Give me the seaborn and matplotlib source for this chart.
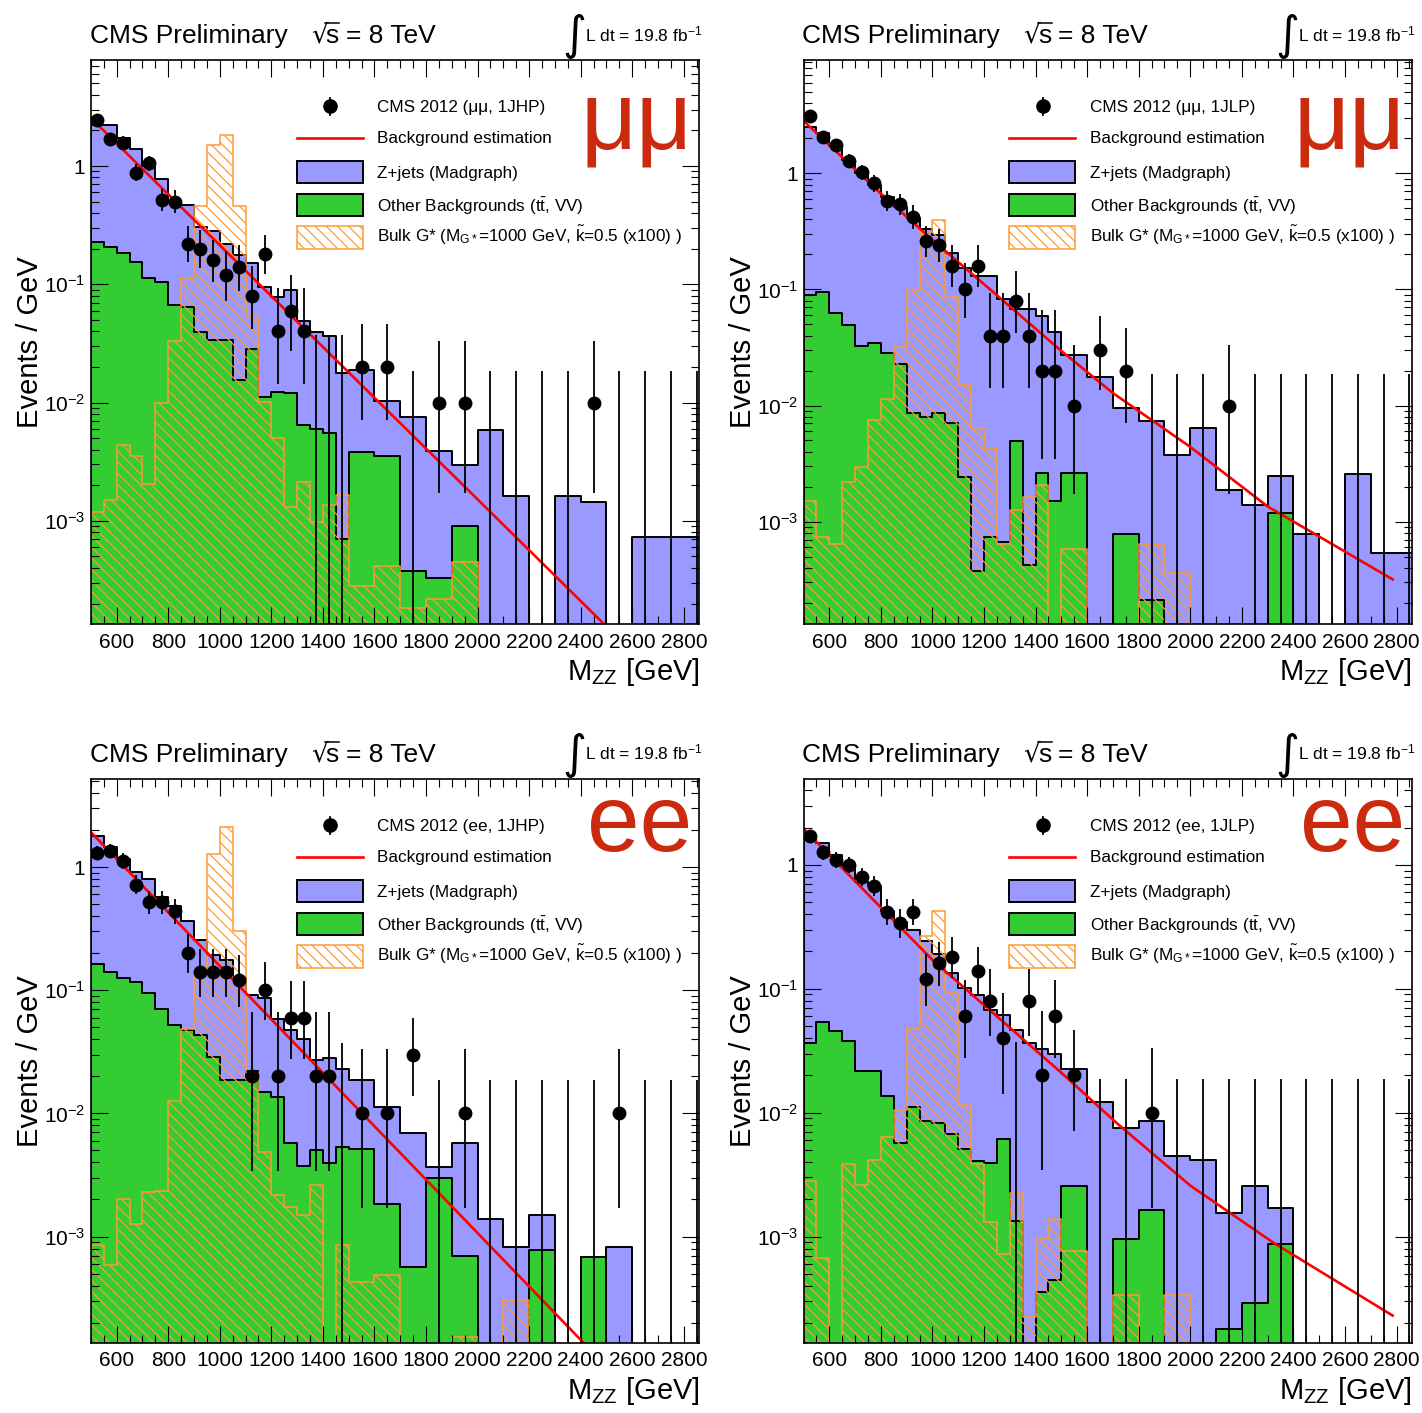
import numpy as np
import matplotlib
matplotlib.use("Agg")
import matplotlib.pyplot as plt
import seaborn as sns
from matplotlib.patches import Rectangle
from matplotlib.ticker import MultipleLocator, LogLocator, NullFormatter, FuncFormatter, FixedLocator

# ------------------------------------------------------------------ data
bin_edges = [500, 550, 600, 650, 700, 750, 800, 850, 900, 950, 1000, 1050, 1100, 1150,
             1200, 1250, 1300, 1350, 1400, 1450, 1500, 1600, 1700, 1800, 1900, 2000,
             2100, 2200, 2300, 2400, 2500, 2600, 2700, 2800, 2900]
x_tick_values = [600, 800, 1000, 1200, 1400, 1600, 1800, 2000, 2200, 2400, 2600, 2800]

# mu-mu, 1JHP  (stack top = Z+jets + other, events / GeV)
tl_stack_top = [2.24, 2.24, 1.71, 1.38, 1.00, 0.777, 0.505, 0.470, 0.305, 0.284, 0.218, 0.178,
                0.152, 0.0944, 0.0778, 0.0898, 0.0487, 0.0392, 0.0365, 0.0178, 0.0188, 0.0104,
                0.0076, 0.00392, 0.00294, 0.00591, 0.00162, 0, 0.00162, 0.00143, 0,
                0.000724, 0.000724, 0.000724]
tl_other = [0.229, 0.208, 0.1845, 0.154, 0.114, 0.1037, 0.0673, 0.0649, 0.0398, 0.034, 0.034,
            0.0154, 0.0284, 0.0111, 0.0124, 0.0120, 0.0065, 0.0060, 0.00554, 0.000698, 0.00379,
            0.00352, 0.00038, 0.000328, 0.000898, 0, 0, 0, 0, 0, 0, 0, 0, 0]
tl_signal = [0.00118, 0.00149, 0.00437, 0.00352, 0.00205, 0.01, 0.0333, 0.113, 0.46, 1.507,
             1.844, 0.46, 0.0531, 0.01015, 0.00498, 0.001315, 0.00213, 0.000986, 0.00135,
             0.001655, 0.00028, 0.000413, 0.000184, 0.000218, 0.000453, 0, 0, 0, 0, 0, 0, 0, 0, 0]
tl_counts = [123, 84, 79, 44, 53, 26, 25, 11, 10, 8, 6, 7, 4, 9, 2, 3, 2, 0, 0, 0,
             2, 2, 0, 1, 1, 0, 0, 0, 0, 1, 0, 0, 0, 0]
tl_fit_x = [500, 1000, 1500, 2000, 2500]
tl_fit_y = [2.55, 0.214, 0.018, 0.00152, 0.000128]
tl_ylim = [1.33e-4, 7.8]

# mu-mu, 1JLP
tr_stack_top = [2.5, 2.21, 1.73, 1.29, 1.015, 0.80, 0.621, 0.517, 0.415, 0.333, 0.292, 0.207,
                0.154, 0.130, 0.130, 0.0826, 0.0673, 0.0673, 0.0594, 0.0427, 0.0271, 0.01746,
                0.0095, 0.00735, 0.00374, 0.00644, 0.00189, 0.00138, 0.00245, 0.000785, 0,
                0.00258, 0.000532, 0.000532]
tr_other = [0.089, 0.0944, 0.0625, 0.0494, 0.0323, 0.0343, 0.0285, 0.0229, 0.00863, 0.0079,
            0.00863, 0.00708, 0.00241, 0.000377, 0.00073, 0.000664, 0.00491, 0.000421, 0.00263,
            0.00152, 0.00263, 0, 0.000785, 0.00021, 0, 0, 0, 0, 0.00119, 0, 0, 0, 0, 0]
tr_signal = [0.00152, 0.00073, 0.000644, 0.00219, 0.00294, 0.00746, 0.0114, 0.0319, 0.0993,
             0.314, 0.394, 0.0857, 0.0153, 0.00635, 0.00434, 0.000644, 0.00126, 0.00163,
             0.00208, 0, 0.000586, 0, 0, 0.000644, 0.000364, 0, 0, 0, 0, 0, 0, 0, 0, 0]
tr_counts = [156, 103, 87, 64, 51, 41, 29, 27, 21, 13, 12, 8, 5, 8, 2, 2, 4, 2, 1, 1,
             1, 3, 2, 0, 0, 0, 1, 0, 0, 0, 0, 0, 0, 0]
tr_fit_x = [500, 800, 1000, 1250, 1500, 1700, 2000, 2300, 2785]
tr_fit_y = [2.83, 0.668, 0.267, 0.089, 0.0295, 0.0128, 0.0044, 0.00135, 0.000318]
tr_ylim = [1.30e-4, 9.36]

# e-e, 1JHP
bl_stack_top = [1.79, 1.45, 1.156, 0.914, 0.807, 0.571, 0.481, 0.365, 0.254, 0.1915, 0.176,
                0.1265, 0.0914, 0.0871, 0.0583, 0.0474, 0.0399, 0.0272, 0.0282, 0.0229, 0.0186,
                0.01132, 0.00693, 0.00367, 0.00575, 0.00139, 0.000818, 0.00149, 0, 0.000684,
                0.000818, 0, 0, 0]
bl_other = [0.162, 0.141, 0.1248, 0.1164, 0.0946, 0.0708, 0.0519, 0.0474, 0.0434, 0.0288,
            0.0186, 0.0186, 0.0221, 0.0148, 0.01364, 0.00575, 0.00372, 0.00501, 0.00399,
            0.00537, 0.00512, 0.001837, 0.000567, 0.00298, 0.000698, 0, 0, 0.000774, 0,
            0.000684, 0, 0, 0, 0]
bl_signal = [0.000859, 0.000587, 0.002, 0.00127, 0.00231, 0.00234, 0.01256, 0.0481, 0.141,
             1.28, 2.12, 0.302, 0.0214, 0.00484, 0.00218, 0.00174, 0.00149, 0.0026, 0,
             0.000847, 0.00043, 0.000487, 0, 0, 0.000152, 0, 0.000304, 0, 0, 0, 0, 0, 0, 0]
bl_counts = [65, 68, 56, 36, 26, 26, 22, 10, 7, 7, 7, 6, 1, 5, 1, 3, 3, 1, 1, 0,
             1, 1, 3, 0, 1, 0, 0, 0, 0, 0, 1, 0, 0, 0]
bl_fit_x = [500, 1000, 1500, 2000, 2450]
bl_fit_y = [1.92, 0.1576, 0.01297, 0.001068, 0.000113]
bl_ylim = [1.375e-4, 5.15]

# e-e, 1JLP
br_stack_top = [1.65, 1.49, 1.21, 0.986, 0.724, 0.676, 0.424, 0.344, 0.296, 0.241, 0.1895,
                0.134, 0.102, 0.0889, 0.0676, 0.061, 0.0463, 0.0364, 0.0328, 0.0296, 0.0225,
                0.01213, 0.0075, 0.0086, 0.00448, 0.00418, 0.00154, 0.00258, 0.00171,
                0, 0, 0, 0, 0]
br_other = [0.0364, 0.0539, 0.0457, 0.0377, 0.0217, 0.0217, 0.0136, 0.00569, 0.0111, 0.0086,
            0.0083, 0.00676, 0.00513, 0.00404, 0.0039, 0.00618, 0.00134, 0, 0.000357,
            0.000448, 0.00258, 0, 0.000953, 0.00165, 0, 0, 0.00018, 0.00029, 0.00087,
            0, 0, 0, 0, 0]
br_signal = [0.00282, 0.000676, 0, 0.00385, 0.00262, 0.00412, 0.0064, 0.01057, 0.047, 0.267,
             0.424, 0.092, 0.01148, 0.00385, 0.001316, 0.000724, 0.00225, 0.000225, 0.000953,
             0.00139, 0.000765, 0, 0.00034, 0, 0.00034, 0, 0, 0, 0, 0, 0, 0, 0, 0]
br_counts = [85, 63, 55, 50, 40, 34, 21, 17, 21, 6, 8, 9, 3, 7, 4, 2, 0, 4, 1, 3,
             2, 0, 0, 1, 0, 0, 0, 0, 0, 0, 0, 0, 0, 0]
br_fit_x = [500, 1000, 1500, 1716, 2000, 2323, 2785]
br_fit_y = [1.96, 0.171, 0.021, 0.0082, 0.00258, 0.00089, 0.00023]
br_ylim = [1.39e-4, 4.9]

legend_labels = ["CMS 2012 (μμ, 1JHP)", "CMS 2012 (μμ, 1JLP)",
                 "CMS 2012 (ee, 1JHP)", "CMS 2012 (ee, 1JLP)"]
channel_labels = ["μμ", "μμ", "ee", "ee"]

# ------------------------------------------------------------------ style
BLUE = "#9999ff"
GREEN = "#33cc33"
ORANGE = "#ff9933"
CHAN_RED = "#cc2a0e"

plt.rcParams["font.family"] = ["Liberation Sans", "DejaVu Sans"]
plt.rcParams["mathtext.fontset"] = "custom"
plt.rcParams["mathtext.rm"] = "Liberation Sans"
plt.rcParams["mathtext.it"] = "Liberation Sans:italic"
plt.rcParams["mathtext.bf"] = "Liberation Sans:bold"
plt.rcParams["hatch.color"] = ORANGE
plt.rcParams["hatch.linewidth"] = 0.9

FW, FH = 1422, 1413
fig = plt.figure(figsize=(FW / 100, FH / 100), dpi=100)
fig.patch.set_facecolor("white")

edges = np.array(bin_edges, float)
centers = 0.5 * (edges[:-1] + edges[1:])
widths = np.diff(edges)


def poisson_interval(n):
    n = np.asarray(n, float)
    hi = np.sqrt(n + 0.75) + 1.0
    m = np.maximum(n, 1.0)
    lo = np.where(n > 0, n - n * (1 - 1 / (9 * m) - 1 / (3 * np.sqrt(m))) ** 3, n)
    return n - lo, n + hi


def yfmt(v, pos):
    e = int(round(np.log10(v)))
    if e == 0:
        return "1"
    return r"$10^{%d}$" % e


panel_rects = [(90.85, 60.5, 699.3, 624.5), (803.5, 60.5, 1412.0, 624.5),
               (90.85, 779.4, 699.3, 1342.7), (803.5, 779.4, 1412.0, 1342.7)]
panel_data = [
    (tl_stack_top, tl_other, tl_signal, tl_counts, tl_fit_x, tl_fit_y, tl_ylim),
    (tr_stack_top, tr_other, tr_signal, tr_counts, tr_fit_x, tr_fit_y, tr_ylim),
    (bl_stack_top, bl_other, bl_signal, bl_counts, bl_fit_x, bl_fit_y, bl_ylim),
    (br_stack_top, br_other, br_signal, br_counts, br_fit_x, br_fit_y, br_ylim),
]

for i, (rect, pdata) in enumerate(zip(panel_rects, panel_data)):
    stack_top, other, signal, counts, fit_x, fit_y, ylim = pdata
    l, t, r, b = rect
    W, H = r - l, b - t
    ax = fig.add_axes([l / FW, 1 - b / FH, W / FW, H / FH])
    ax.set_yscale("log")

    sns.histplot(x=list(centers), weights=list(stack_top), bins=bin_edges, element="step",
                 fill=True, color=BLUE, alpha=1, edgecolor="black", linewidth=1.4,
                 ax=ax, zorder=1.0)
    sns.histplot(x=list(centers), weights=list(other), bins=bin_edges, element="step",
                 fill=True, color=GREEN, alpha=1, edgecolor="black", linewidth=1.4,
                 ax=ax, zorder=1.1)
    sns.histplot(x=list(centers), weights=list(signal), bins=bin_edges, element="step",
                 fill=True, color=ORANGE, facecolor="none", edgecolor=ORANGE,
                 hatch="\\\\\\", linewidth=1.1, ax=ax, zorder=1.2)

    sns.lineplot(x=fit_x, y=fit_y, color="red", linewidth=1.9, ax=ax, zorder=2.0,
                 estimator=None, sort=False)

    n = np.array(counts, float)
    lo, hi = poisson_interval(n)
    dens = n / widths
    lower = np.maximum(lo / widths, 1e-7)
    upper = hi / widths
    ax.vlines(centers, lower, upper, color="black", linewidth=1.3, zorder=2.1)
    mask = n > 0
    sns.scatterplot(x=centers[mask], y=dens[mask], color="black", s=100, linewidth=0,
                    ax=ax, zorder=2.2, legend=False)

    ax.set_xlim(500, 2860)
    ax.set_ylim(*ylim)
    ax.set_xlabel("")
    ax.set_ylabel("")
    ax.set_axisbelow(False)

    ax.xaxis.set_major_locator(FixedLocator(x_tick_values))
    ax.xaxis.set_minor_locator(MultipleLocator(50))
    ax.yaxis.set_major_locator(LogLocator(base=10, numticks=20))
    ax.yaxis.set_minor_locator(LogLocator(base=10, subs=np.arange(2, 10), numticks=20))
    ax.yaxis.set_major_formatter(FuncFormatter(yfmt))
    ax.yaxis.set_minor_formatter(NullFormatter())
    ax.tick_params(which="both", direction="in", top=True, right=True, width=0.8)
    ax.tick_params(which="major", length=12, labelsize=15)
    ax.tick_params(which="minor", length=6)
    ax.tick_params(axis="x", which="major", pad=6)
    ax.tick_params(axis="y", which="major", pad=4)
    for sp in ax.spines.values():
        sp.set_linewidth(1.2)
        sp.set_zorder(5)

    def P(dx, dy):
        return dx / W, 1 - dy / H

    tx = dict(transform=ax.transAxes, clip_on=False)

    # header
    ax.text(*P(-1, -17.5), "CMS Preliminary", fontsize=19, ha="left", va="baseline", **tx)
    ax.text(*P(220, -17.5), "√", fontsize=19, ha="left", va="baseline",
            family=["DejaVu Sans"], **tx)
    ax.text(*P(234.5, -17.5), "s", fontsize=19, ha="left", va="baseline", **tx)
    ax.plot([P(234, 0)[0], P(248.5, 0)[0]], [P(0, -37.6)[1]] * 2, color="black", lw=1.1, **tx)
    ax.text(*P(255, -17.5), "= 8 TeV", fontsize=19, ha="left", va="baseline", **tx)
    ax.text(*P(483.7, -23.8), "∫", fontsize=33, ha="center", va="center",
            family=["DejaVu Sans"], **tx)
    ax.text(*P(494, -19.5), r"L dt = 19.8 fb$^{\mathrm{-1}}$", fontsize=12.5, ha="left",
            va="baseline", **tx)

    # axis titles
    ax.text(*P(W, 619.5), r"M$_{\mathrm{ZZ}}$ [GeV]", fontsize=21, ha="right",
            va="baseline", **tx)
    ax.text(*P(30 - 90.85, H / 2), "Events / GeV", fontsize=21, rotation=90, ha="center",
            va="center", **tx)

    # legend
    mx, my = P(239.2, 45.2)
    ax.plot([mx, mx], [P(0, 37.5)[1], P(0, 54.5)[1]], color="black", lw=1.3, **tx, zorder=6)
    ax.plot([mx], [my], "o", color="black", ms=9.5, **tx, zorder=6)
    ax.plot([P(205.9, 0)[0], P(271.9, 0)[0]], [P(0, 77.2)[1]] * 2, color="red", lw=1.9,
            **tx, zorder=6)
    boxes = [(100.5, 122.2, BLUE, "black", None, 1.4),
             (134.0, 155.5, GREEN, "black", None, 1.4),
             (165.2, 188.5, "white", ORANGE, "\\\\\\", 1.1)]
    for top, bot, fc, ec, hatch, lw in boxes:
        x0, y0 = P(205.9, bot)
        ax.add_patch(Rectangle((x0, y0), 66 / W, (bot - top) / H, facecolor=fc, edgecolor=ec,
                               hatch=hatch, linewidth=lw, transform=ax.transAxes,
                               clip_on=False, zorder=6))
    labels = [legend_labels[i], "Background estimation", "Z+jets (Madgraph)",
              r"Other Backgrounds (t$\bar{\mathrm{t}}$, VV)",
              r"Bulk G* (M$_{\mathrm{G*}}$=1000 GeV, $\tilde{\mathrm{k}}$=0.5 (x100) )"]
    baselines = [51.2, 82.2, 117.2, 152.0, 181.5]
    for lab, bl in zip(labels, baselines):
        ax.text(*P(286.5, bl), lab, fontsize=12.3, ha="left", va="baseline", zorder=7, **tx)

    # channel label
    if channel_labels[i] == "μμ":
        ax.text(*P(545.6, 87.8), channel_labels[i], fontsize=70, color=CHAN_RED,
                ha="center", va="baseline", zorder=7, **tx)
    else:
        ax.text(*P(549.2, 71.6), channel_labels[i], fontsize=68, color=CHAN_RED,
                ha="center", va="baseline", zorder=7, **tx)

fig.savefig("out.png", dpi=100, facecolor="white")
